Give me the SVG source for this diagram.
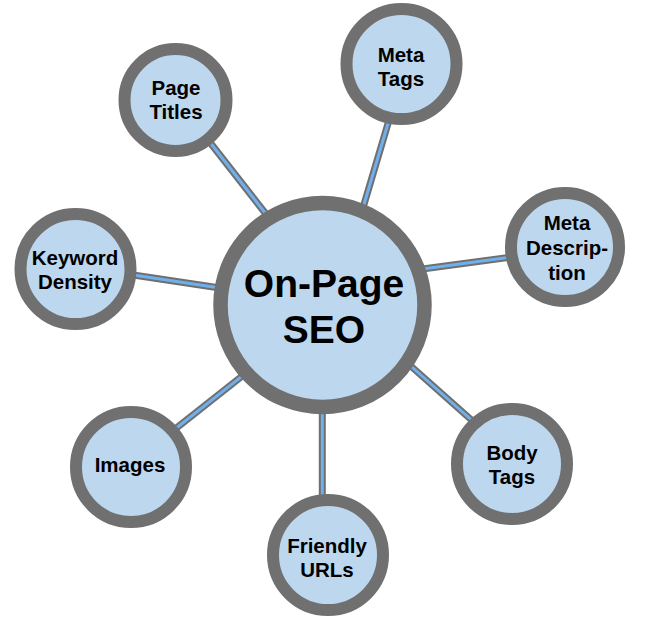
<svg xmlns="http://www.w3.org/2000/svg" width="650" height="623" viewBox="0 0 650 623">
<style>
.co{stroke:#6f6f6f;stroke-width:7;stroke-linecap:butt;fill:none}
.ci{stroke:#6fb0ec;stroke-width:3;stroke-linecap:butt;fill:none}
.n{fill:#bdd7ee;stroke:#707070;stroke-width:12}
.hub{fill:#bdd7ee;stroke:#707070;stroke-width:14.5}
.t{font-family:"Liberation Sans",Arial,sans-serif;font-weight:bold;font-size:20.5px;fill:#000;text-anchor:middle}
.th{font-family:"Liberation Sans",Arial,sans-serif;font-weight:bold;font-size:39px;fill:#000;text-anchor:middle}
</style>
<rect width="650" height="623" fill="#fff"/>
<g id="connectors">
  <g class="co">
    <line x1="205" y1="136" x2="280" y2="232"/>
    <line x1="392" y1="110" x2="357" y2="228"/>
    <line x1="400" y1="272" x2="520" y2="256"/>
    <line x1="120" y1="273" x2="240" y2="291"/>
    <line x1="165" y1="437" x2="260" y2="362"/>
    <line x1="322.3" y1="395" x2="322.3" y2="505"/>
    <line x1="395" y1="352" x2="485" y2="432"/>
  </g>
  <g class="ci">
    <line x1="205" y1="136" x2="280" y2="232"/>
    <line x1="392" y1="110" x2="357" y2="228"/>
    <line x1="400" y1="272" x2="520" y2="256"/>
    <line x1="120" y1="273" x2="240" y2="291"/>
    <line x1="165" y1="437" x2="260" y2="362"/>
    <line x1="322.3" y1="395" x2="322.3" y2="505"/>
    <line x1="395" y1="352" x2="485" y2="432"/>
  </g>
</g>
<g id="hub">
  <circle class="hub" cx="322.5" cy="305" r="102"/>
  <text class="th" x="324" y="297">On-Page</text>
  <text class="th" x="324" y="343">SEO</text>
</g>
<g id="page-titles">
  <circle class="n" cx="175.5" cy="100" r="51"/>
  <text class="t" x="176" y="95">Page</text>
  <text class="t" x="176" y="119">Titles</text>
</g>
<g id="meta-tags">
  <circle class="n" cx="401.5" cy="64" r="55"/>
  <text class="t" x="401" y="62">Meta</text>
  <text class="t" x="401" y="86">Tags</text>
</g>
<g id="meta-description">
  <circle class="n" cx="565" cy="247" r="54"/>
  <text class="t" x="567" y="230">Meta</text>
  <text class="t" x="567" y="255">Descrip-</text>
  <text class="t" x="567" y="280">tion</text>
</g>
<g id="keyword-density">
  <circle class="n" cx="75.5" cy="269" r="55"/>
  <text class="t" x="75" y="265">Keyword</text>
  <text class="t" x="75" y="289">Density</text>
</g>
<g id="images">
  <circle class="n" cx="131" cy="467" r="55"/>
  <text class="t" x="130" y="472">Images</text>
</g>
<g id="friendly-urls">
  <circle class="n" cx="328" cy="555" r="55"/>
  <text class="t" x="327" y="553">Friendly</text>
  <text class="t" x="327" y="577">URLs</text>
</g>
<g id="body-tags">
  <circle class="n" cx="512" cy="464" r="55"/>
  <text class="t" x="512" y="460">Body</text>
  <text class="t" x="512" y="484">Tags</text>
</g>
</svg>
